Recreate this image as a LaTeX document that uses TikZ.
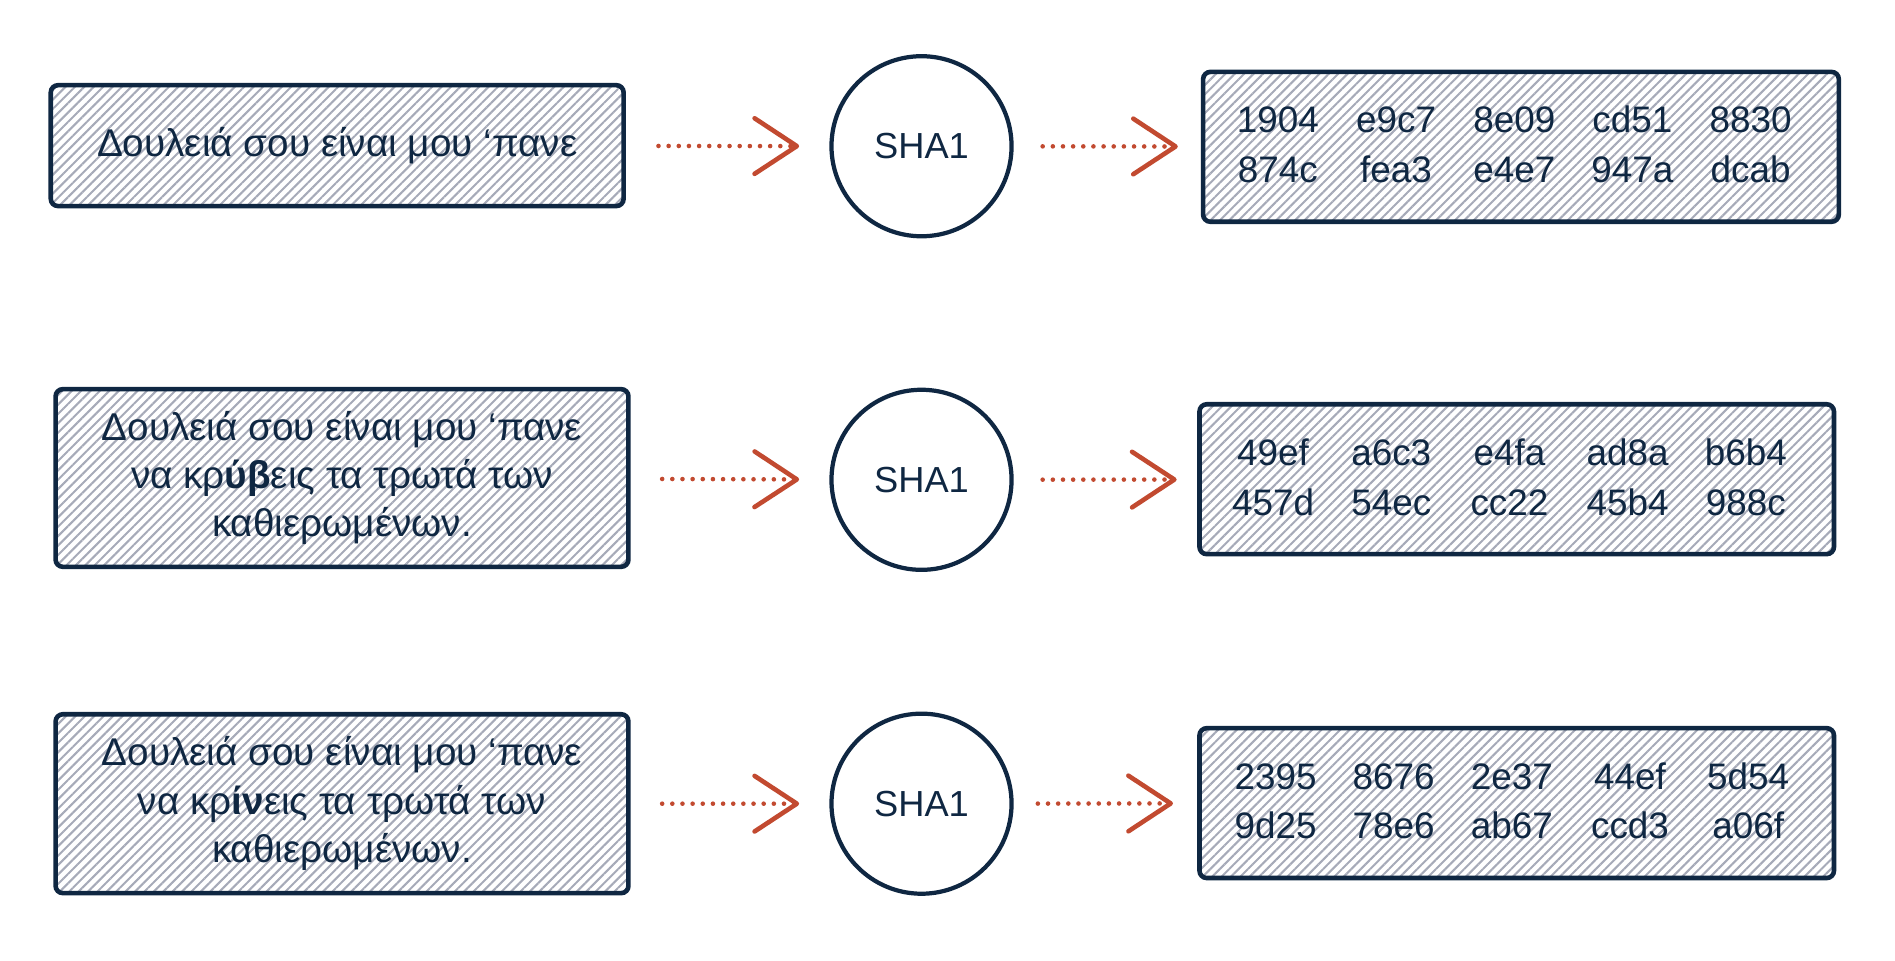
\documentclass[tikz,border=0pt]{standalone}
\usepackage{fontspec}
\setmainfont{Liberation Sans}
\usetikzlibrary{arrows.meta,patterns.meta}
\definecolor{navy}{HTML}{0F2742}
\definecolor{hatch}{HTML}{A6AAB8}
\definecolor{redarr}{HTML}{C24A30}
\newcommand\hexrow[5]{\makebox[97.8pt]{#1}\makebox[97.8pt]{#2}\makebox[97.8pt]{#3}\makebox[97.8pt]{#4}\makebox[97.8pt]{#5}}
\begin{document}
\begin{tikzpicture}[x=1pt,y=-1pt,
  hbox/.style={draw=navy,line width=3.8pt,rounded corners=6pt,
    pattern={Lines[angle=45,distance=5.5pt,line width=1.7pt]},pattern color=hatch,
    inner sep=0pt,text=navy,font=\fontsize{32}{40}\selectfont,align=center},
  hashc/.style={circle,draw=navy,line width=3.5pt,minimum size=149pt,inner sep=0pt,
    text=navy,font=\fontsize{30}{34}\selectfont},
  hextext/.style={text=navy,font=\fontsize{30.5}{41}\selectfont,align=center,inner sep=0pt},
  conn/.style={draw=redarr,line width=3.8pt,line cap=round,dash pattern=on 0pt off 8.4pt,
    -{Straight Barb[length=35pt,width=46pt,line width=3.8pt,round]}}
]
\useasboundingbox (0,0) rectangle (1568,795);

% row 1
\node[hbox,minimum width=474pt,minimum height=100pt] (l1) at (279,120.5) {Δουλειά σου είναι μου ‘πανε};
\node[hashc] (c1) at (762.5,121) {SHA1};
\node[hbox,minimum width=526pt,minimum height=124pt] (r1) at (1258.5,121.5) {};
\node[hextext] (h1) at (1253,119.5) {\hexrow{1904}{e9c7}{8e09}{cd51}{8830}\\\hexrow{874c}{fea3}{e4e7}{947a}{dcab}};

% row 2
\node[hbox,minimum width=474pt,minimum height=147pt] (l2) at (283,395.5) {Δουλειά σου είναι μου ‘πανε\\να κρ\textbf{ύβ}εις τα τρωτά των\\καθιερωμένων.};
\node[hashc] (c2) at (762.5,397) {SHA1};
\node[hbox,minimum width=525pt,minimum height=124pt] (r2) at (1255,396.5) {};
\node[hextext] (h2) at (1249,395) {\hexrow{49ef}{a6c3}{e4fa}{ad8a}{b6b4}\\\hexrow{457d}{54ec}{cc22}{45b4}{988c}};

% row 3
\node[hbox,minimum width=474pt,minimum height=148pt] (l3) at (283,665) {Δουλειά σου είναι μου ‘πανε\\να κρ\textbf{ίν}εις τα τρωτά των\\καθιερωμένων.};
\node[hashc] (c3) at (762.5,665) {SHA1};
\node[hbox,minimum width=525pt,minimum height=124pt] (r3) at (1255,664.5) {};
\node[hextext] (h3) at (1251,662.5) {\hexrow{2395}{8676}{2e37}{44ef}{5d54}\\\hexrow{9d25}{78e6}{ab67}{ccd3}{a06f}};

% connectors
\draw[conn,shorten <=28pt,shorten >=25pt] (l1) -- (c1);
\draw[conn,shorten <=24pt,shorten >=19pt] (c1) -- (r1);
\draw[conn,shorten <=26pt,shorten >=25pt] (l2) -- (c2);
\draw[conn,shorten <=24pt,shorten >=17pt] (c2) -- (r2);
\draw[conn,shorten <=26pt,shorten >=25pt] (l3) -- (c3);
\draw[conn,shorten <=20pt,shorten >=20pt] (c3) -- (r3);
\end{tikzpicture}
\end{document}
